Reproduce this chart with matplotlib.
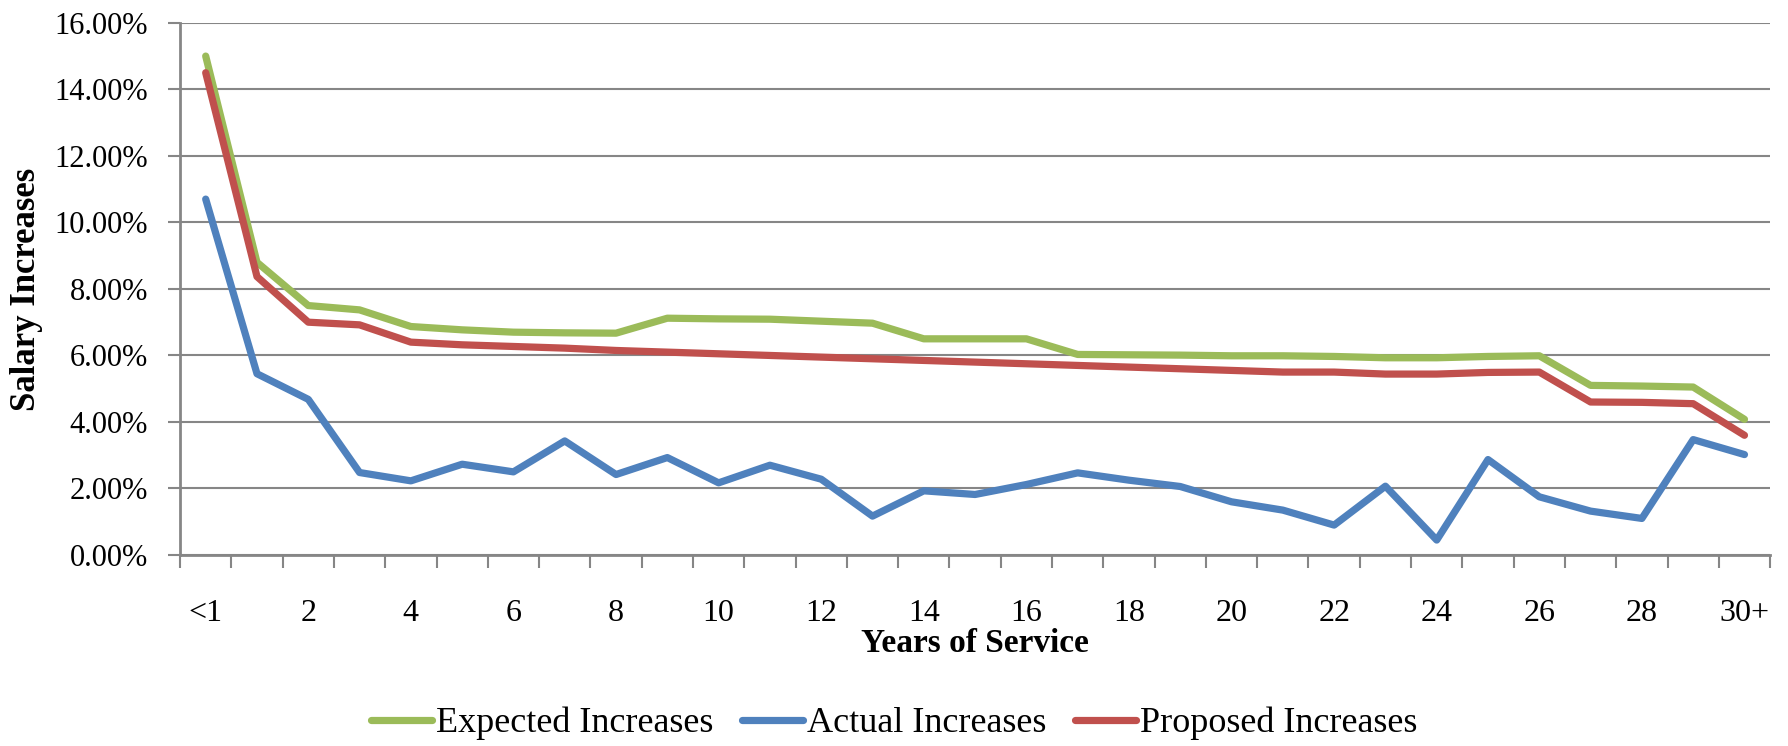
import matplotlib
matplotlib.use("Agg")
import matplotlib.pyplot as plt
import numpy as np
from matplotlib.ticker import FuncFormatter

years = ["<1"] + [str(i) for i in range(1, 30)] + ["30+"]

expected = [15.0, 8.8, 7.5, 7.37, 6.87, 6.77, 6.7, 6.68, 6.67, 7.12, 7.1, 7.09, 7.03, 6.97,
            6.5, 6.5, 6.5, 6.03, 6.02, 6.01, 5.99, 5.99, 5.97, 5.93, 5.93, 5.97, 5.99,
            5.1, 5.08, 5.05, 4.08]
actual = [10.7, 5.45, 4.68, 2.48, 2.23, 2.73, 2.5, 3.43, 2.42, 2.93, 2.17, 2.7, 2.28, 1.17,
          1.93, 1.82, 2.12, 2.47, 2.25, 2.06, 1.6, 1.35, 0.9, 2.07, 0.45, 2.87, 1.75,
          1.32, 1.1, 3.47, 3.02]
proposed = [14.5, 8.37, 7.0, 6.92, 6.4, 6.32, 6.27, 6.22, 6.15, 6.1, 6.05, 6.0, 5.95, 5.9,
            5.85, 5.8, 5.75, 5.7, 5.65, 5.6, 5.55, 5.5, 5.5, 5.44, 5.44, 5.49, 5.5,
            4.6, 4.59, 4.55, 3.6]

plt.rcParams['font.family'] = ['Liberation Serif', 'DejaVu Serif']

fig = plt.figure(figsize=(17.88, 7.46), dpi=100)
ax = fig.add_axes([0.1007, 0.256, 0.8893, 0.7134])

x = np.arange(len(years))
grey = '#868686'
lw = 5.2
ax.plot(x, expected, color='#9BBB59', lw=lw, label='Expected Increases', solid_capstyle='round')
ax.plot(x, actual, color='#4F81BD', lw=lw, label='Actual Increases', solid_capstyle='round')
ax.plot(x, proposed, color='#C0504D', lw=lw, label='Proposed Increases', solid_capstyle='round')

ax.set_xlim(-0.5, len(years) - 0.5)
ax.set_ylim(0, 16)
ax.set_yticks(np.arange(0, 17, 2))
ax.yaxis.set_major_formatter(FuncFormatter(lambda v, p: f"{v:.2f}%"))
ax.grid(axis='y', color=grey, lw=1.5)
ax.set_axisbelow(True)

ax.set_xticks(x[::2])
ax.set_xticklabels(years[::2])
ax.set_xticks(np.arange(-0.5, len(years)), minor=True)
ax.tick_params(axis='x', which='major', length=0, pad=32, labelsize=23)
ax.tick_params(axis='x', which='minor', length=9, width=1.5, color=grey, direction='out')
ax.tick_params(axis='y', length=9, width=1.5, color=grey, pad=14, labelsize=22)

for s in ['top', 'right']:
    ax.spines[s].set_visible(False)
for s in ['left', 'bottom']:
    ax.spines[s].set_color(grey)
    ax.spines[s].set_linewidth(2)

ax.set_xlabel("Years of Service", fontsize=24, fontweight='bold', labelpad=0)
ax.set_ylabel("Salary Increases", fontsize=25, fontweight='bold', labelpad=8)

fig.legend(loc='center', bbox_to_anchor=(0.5, 0.03), ncol=3, frameon=False,
           fontsize=26, handlelength=1.7, handletextpad=0.1, columnspacing=0.8)

fig.savefig("out.png", dpi=100)
